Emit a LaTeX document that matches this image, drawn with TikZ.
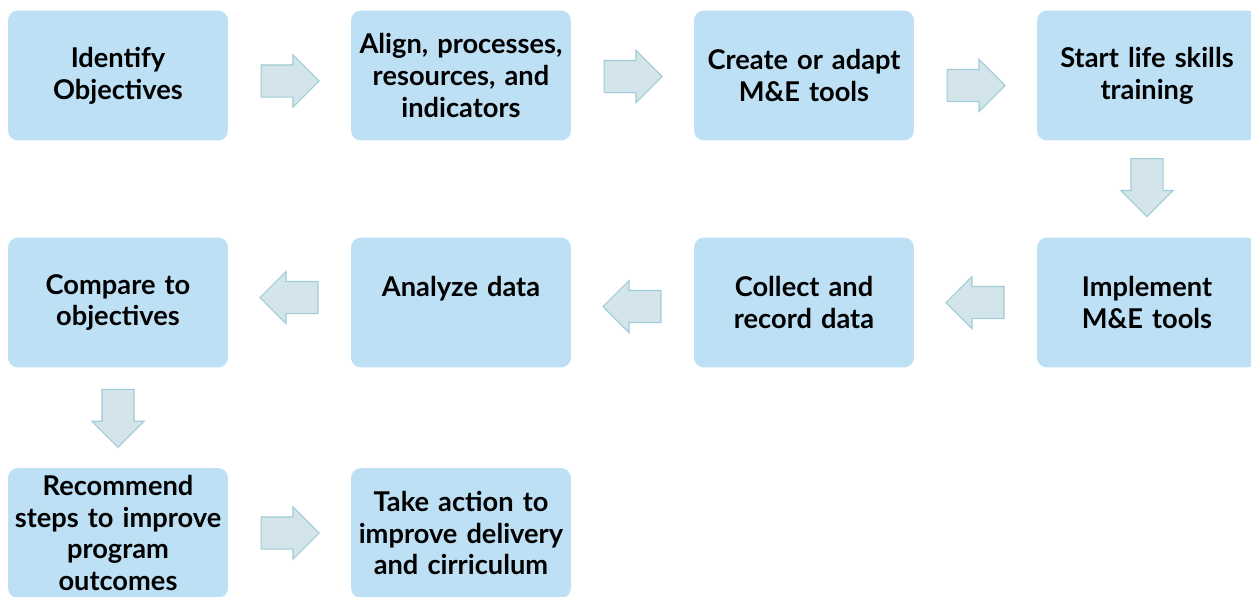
\documentclass[tikz,border=0pt]{standalone}
\usepackage{fontspec}
\setmainfont{Lato}
\usetikzlibrary{shapes.arrows,calc}
\definecolor{boxblue}{HTML}{BDE0F5}
\definecolor{arrfill}{HTML}{D3E5EA}
\definecolor{arrline}{HTML}{9FCCD6}
\begin{document}
\begin{tikzpicture}
			[x=0.02cm, y=-0.02cm,
			 blk/.style={fill=boxblue, rounded corners=0.2cm, minimum width=4.4cm,
			   minimum height=2.6cm, text width=4.3cm, align=center, inner sep=0pt,
			   font=\bfseries\fontsize{15.5}{18.1}\selectfont},
			 arr/.style={single arrow, fill=arrfill, draw=arrline, line width=0.6pt,
			   minimum height=1.16cm, inner xsep=0pt, inner ysep=0.31cm,
			   single arrow head extend=0.2cm, anchor=tail}]
			\useasboundingbox (0,0) rectangle (1251,596);
			\node[blk] (o) at (118,75.5) {Identify\\Objectives};
			\node[blk] (p) at (461,75.5) {Align, processes,\\resources, and\\indicators};
			\node[blk] (t) at (804,75.5) {Create or adapt\\M\&E tools};
			\node[blk] (s) at (1147,75.5) {Start life skills\\training};
			\node[blk] (i) at (1147,302.5) {Implement\\M\&E tools};
			\node[blk] (c) at (804,302.5) {Collect and\\record data};
			\node[blk] (a) at (461,302.5) {Analyze data\\\mbox{}};
			\node[blk] (cmp) at (118,302.5) {Compare to\\objectives};
			\node[blk] (r) at (118,533) {Recommend\\steps to improve\\program\\outcomes};
			\node[blk] (act) at (461,533) {Take action to\\improve delivery\\and cirriculum};
			% block arrows between the steps (placed by their tails)
			\node[arr] (op) at ($(o)!0.5!(p)+(-29,5.5)$) {};
			\node[arr] (pt) at ($(p)!0.5!(t)+(-29,1)$) {};
			\node[arr] (ts) at ($(t)!0.5!(s)+(-29,10)$) {};
			\node[arr, rotate=-90] (si) at ($(s)!0.5!(i)+(0,-31)$) {};
			\node[arr, rotate=180] (ic) at ($(i)!0.5!(c)+(29,0)$) {};
			\node[arr, rotate=180] (ca) at ($(c)!0.5!(a)+(29,4)$) {};
			\node[arr, rotate=180] (acmp) at ($(a)!0.5!(cmp)+(29,-5)$) {};
			\node[arr, rotate=-90] (cmpr) at ($(cmp)!0.5!(r)+(0,-29)$) {};
			\node[arr] (ract) at ($(r)!0.5!(act)+(-29,0)$) {};
			\end{tikzpicture}
\end{document}
